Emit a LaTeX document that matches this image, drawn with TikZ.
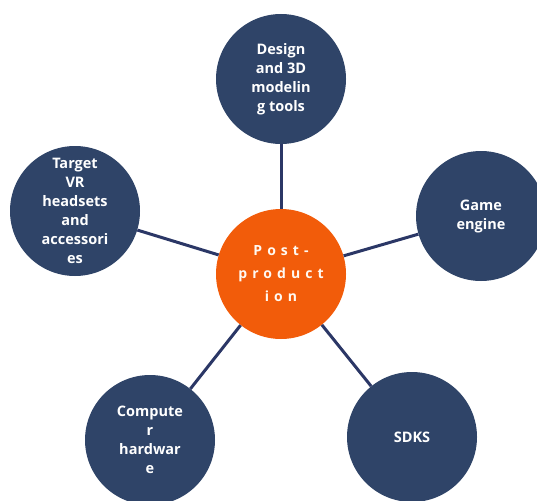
\documentclass[tikz,border=0pt]{standalone}
\usepackage{fontspec}
\setmainfont{Open Sans}
\definecolor{navy}{HTML}{2F4468}
\definecolor{linecol}{HTML}{2B3766}
\definecolor{orng}{HTML}{F25C0A}
\begin{document}
\begin{tikzpicture}[x=1pt,y=-1pt,
  bubble/.style={circle,fill=navy,minimum size=130pt,inner sep=0pt,text=white,align=center,
    font=\fontsize{14.5}{19}\selectfont\bfseries},
  hub/.style={circle,fill=orng,minimum size=130pt,inner sep=0pt,text=white!95!orange,align=center,
    font=\fontsize{14}{23}\selectfont\bfseries\addfontfeature{LetterSpace=36}},
  link/.style={draw=linecol,line width=3pt}]
\useasboundingbox (0,0) rectangle (537,500);
\node[hub] (c) at (281,274) {Post-\\product\\ion};
\node[bubble] (t) at (281,79) {Design\\and 3D\\modelin\\g tools};
\node[bubble] (l) at (75,211) {Target\\VR\\headsets\\and\\accessori\\es};
\node[bubble] (r) at (481,216) {Game\\engine};
\node[bubble] (bl) at (150,440) {Compute\\r\\hardwar\\e};
\node[bubble] (br) at (412,437) {SDKS};
\draw[link] (c) -- (t);
\draw[link] (c) -- (l);
\draw[link] (c) -- (r);
\draw[link] (c) -- (bl);
\draw[link] (c) -- (br);
\end{tikzpicture}
\end{document}
